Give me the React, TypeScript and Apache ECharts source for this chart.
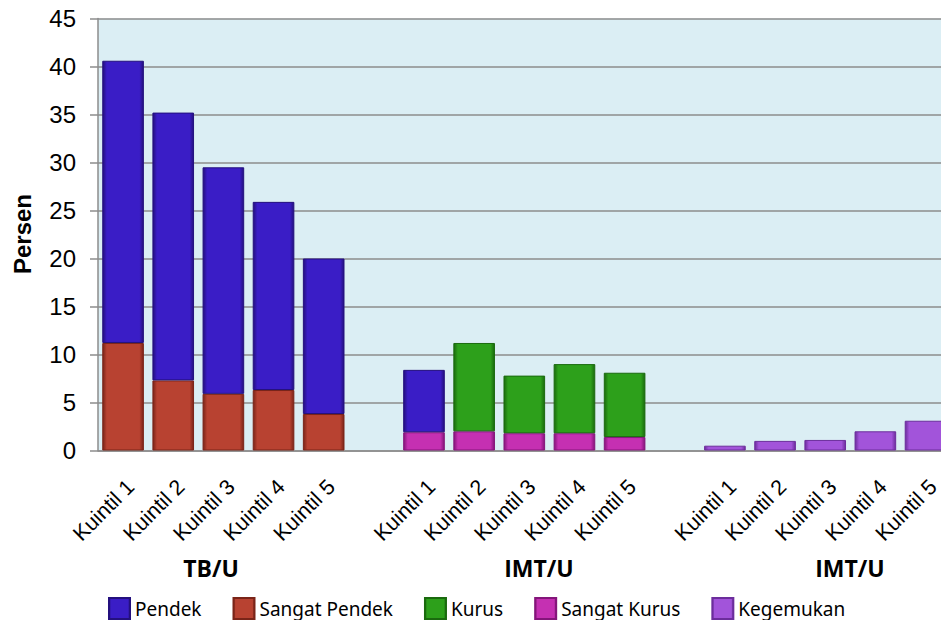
import React, { useEffect, useRef } from "react";
import * as echarts from "echarts";

const kuintil = ["Kuintil 1", "Kuintil 2", "Kuintil 3", "Kuintil 4", "Kuintil 5"];
const groupLabels = ["TB/U", "IMT/U", "IMT/U"];
const yTicks = [0, 5, 10, 15, 20, 25, 30, 35, 40, 45];

const pendek = [29.4, 27.9, 23.6, 19.6, 16.2];
const sangatPendek = [11.2, 7.3, 5.9, 6.3, 3.8];
const kurus = [6.5, 9.2, 6.0, 7.2, 6.7];
const sangatKurus = [1.9, 2.0, 1.8, 1.8, 1.4];
const kegemukan = [0.5, 1.0, 1.1, 2.0, 3.1];

const COLORS = {
  pendek: ["#3a1dc6", "#24107e"],
  sangatPendek: ["#b84231", "#7a2418"],
  kurus: ["#2da01b", "#1a6a0e"],
  sangatKurus: ["#c530b2", "#84157a"],
  kegemukan: ["#a254da", "#6c2d9c"],
};

function grad(c: string[]) {
  return new echarts.graphic.LinearGradient(0, 0, 1, 0, [
    { offset: 0, color: c[1] },
    { offset: 0.1, color: c[0] },
    { offset: 0.9, color: c[0] },
    { offset: 1, color: c[1] },
  ]);
}

const empty5 = [null, null, null, null, null];
const categories = [...kuintil, "", ...kuintil, "", ...kuintil];

export default function App() {
  const ref = useRef<HTMLDivElement>(null);
  useEffect(() => {
    document.body.style.margin = "0";
    const chart = echarts.init(ref.current!, null, { renderer: "svg" });
    const mk = (name: string, c: string[], data: any[]) => ({
      name,
      type: "bar",
      stack: "total",
      barCategoryGap: "17%",
      color: c[0],
      itemStyle: { color: grad(c), borderColor: c[1], borderWidth: 1 },
      data,
    });
    const kurusData: any[] = kurus.map((v, i) =>
      i === 0 ? { value: v, itemStyle: { color: grad(COLORS.pendek), borderColor: COLORS.pendek[1] } } : v
    );
    chart.setOption({
      animation: false,
      grid: {
        left: 98,
        top: 18.5,
        width: 852.6,
        height: 432,
        show: true,
        backgroundColor: "#dbeef4",
        borderWidth: 0,
        containLabel: false,
        outerBoundsMode: "none",
      },
      legend: {
        left: 108,
        top: 597,
        itemWidth: 21,
        itemHeight: 21,
        itemGap: 31,
        padding: 0,
        icon: "rect",
        data: ["Pendek", "Sangat Pendek", "Kurus", "Sangat Kurus", "Kegemukan"],
        textStyle: { fontFamily: "Noto Sans", fontSize: 19, color: "#000" },
      },
      xAxis: {
        type: "category",
        data: categories,
        axisLine: { lineStyle: { color: "#8c8c8c", width: 1.5 } },
        axisTick: { length: 6, lineStyle: { color: "#8c8c8c", width: 1.5 } },
        axisLabel: {
          interval: 0,
          rotate: 45,
          margin: 25,
          verticalAlign: "top",
          fontFamily: "Liberation Sans",
          fontSize: 21.5,
          color: "#000",
        },
      },
      yAxis: {
        type: "value",
        min: yTicks[0],
        max: yTicks[yTicks.length - 1],
        interval: 5,
        axisLine: { show: true, lineStyle: { color: "#8c8c8c", width: 1.5 } },
        axisTick: { show: true, length: 8, lineStyle: { color: "#8c8c8c", width: 1.5 } },
        splitLine: { lineStyle: { color: "#8c8c8c", width: 1.5 } },
        axisLabel: { margin: 22, fontFamily: "Liberation Sans", fontSize: 24, color: "#000" },
      },
      graphic: [
        {
          type: "text",
          x: 22,
          y: 234,
          rotation: Math.PI / 2,
          style: {
            text: "Persen",
            font: "bold 24px 'Liberation Sans'",
            fill: "#000",
            textAlign: "center",
            textVerticalAlign: "middle",
          },
        },
        ...groupLabels.map((t, i) => ({
          type: "text",
          x: [211, 539, 850][i],
          y: 568,
          style: {
            text: t,
            font: "bold 23px 'Open Sans'",
            fill: "#000",
            textAlign: "center",
            textVerticalAlign: "middle",
          },
        })),
      ],
      series: [
        mk("Sangat Pendek", COLORS.sangatPendek, [...sangatPendek, null, ...empty5, null, ...empty5]),
        mk("Pendek", COLORS.pendek, [...pendek, null, ...empty5, null, ...empty5]),
        mk("Sangat Kurus", COLORS.sangatKurus, [...empty5, null, ...sangatKurus, null, ...empty5]),
        mk("Kurus", COLORS.kurus, [...empty5, null, ...kurusData, null, ...empty5]),
        mk("Kegemukan", COLORS.kegemukan, [...empty5, null, ...empty5, null, ...kegemukan]),
      ],
    });
    return () => chart.dispose();
  }, []);
  return <div ref={ref} style={{ position: "absolute", left: 0, top: 0, width: 941, height: 620 }} />;
}
